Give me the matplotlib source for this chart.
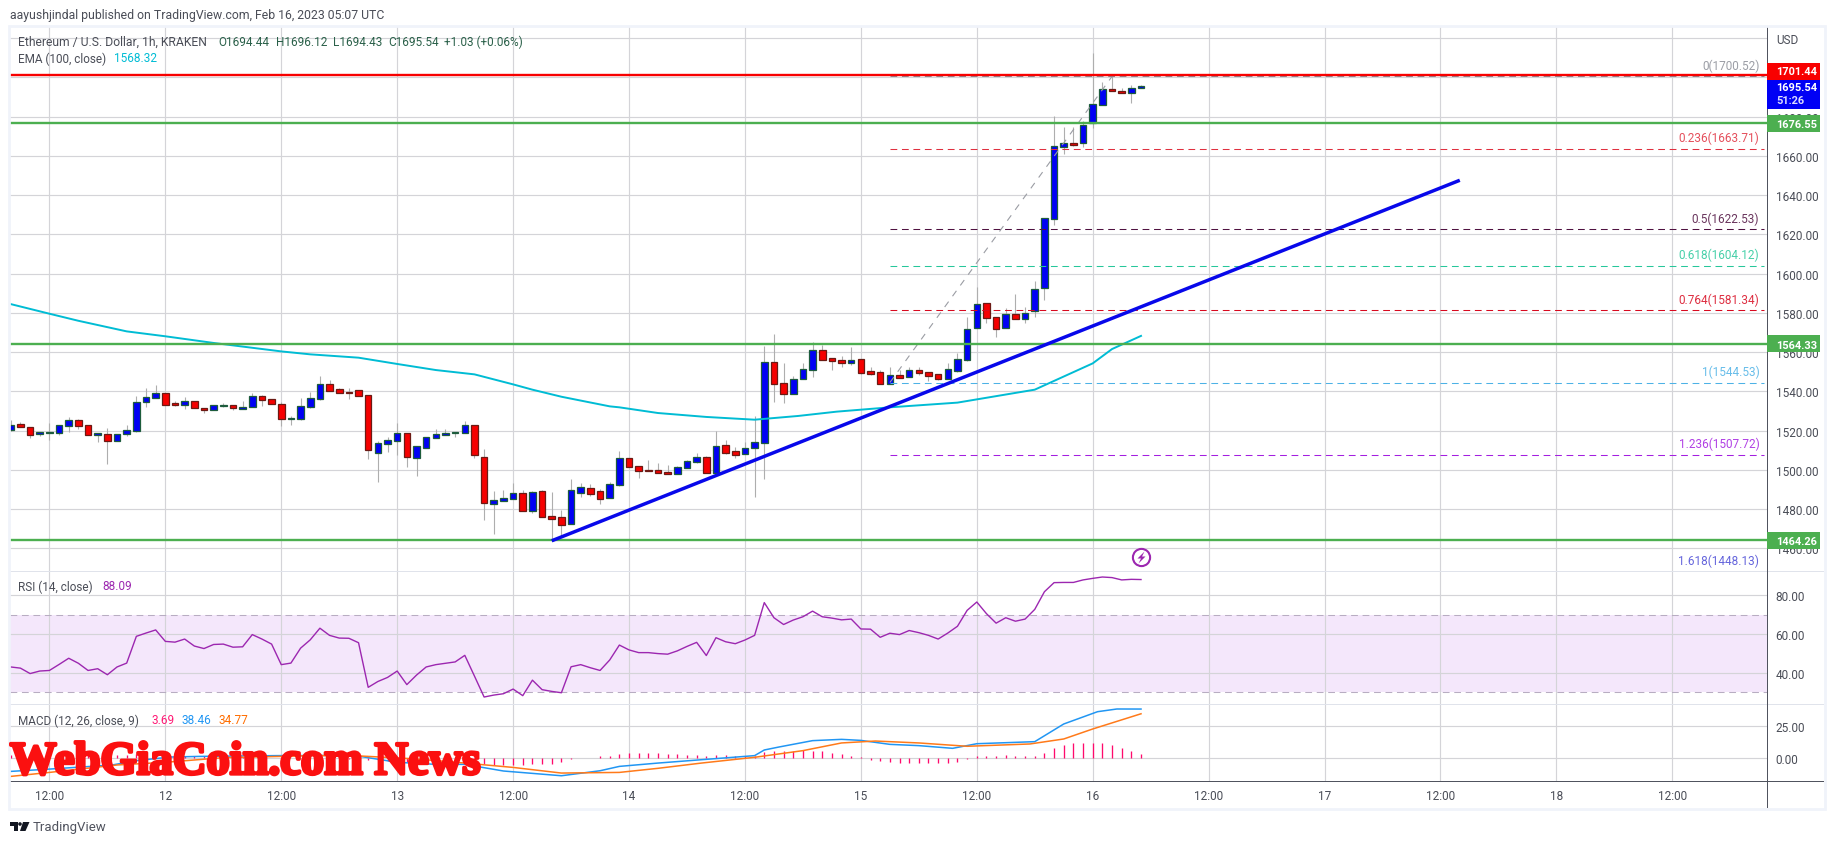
"""ETH/USD 1h chart, TradingView look, three panes (price, RSI, MACD)."""
import matplotlib
matplotlib.use("Agg")
import matplotlib.patheffects as pe
import matplotlib.pyplot as plt
import numpy as np
from matplotlib.patches import Circle, Polygon, Rectangle

W, H = 1834, 845

# hours since Feb 12 00:00, first candle Feb 11 08:00
hours = np.arange(-16, 102)

opens = [1520.5, 1523.2, 1521.7, 1518.5, 1519.0, 1519.0, 1522.6, 1525.3, 1522.7, 1518.0, 1518.1, 1514.9,
         1518.5, 1520.0, 1534.8, 1536.8, 1539.0, 1533.9, 1533.3, 1535.0, 1531.4, 1530.7, 1532.6, 1532.9,
         1531.2, 1531.9, 1537.5, 1536.0, 1533.4, 1525.8, 1526.1, 1532.2, 1536.3, 1543.6, 1541.1, 1539.5,
         1540.6, 1538.0, 1508.8, 1513.4, 1514.9, 1518.6, 1506.2, 1511.3, 1516.4, 1518.0, 1519.0, 1519.0,
         1522.7, 1506.4, 1482.8, 1484.3, 1485.4, 1488.1, 1479.2, 1489.1, 1476.4, 1475.8, 1472.6, 1488.4,
         1490.6, 1489.1, 1485.5, 1492.2, 1505.9, 1501.8, 1500.0, 1499.8, 1498.8, 1498.1, 1501.2, 1504.2,
         1506.4, 1498.6, 1512.5, 1509.5, 1508.3, 1511.3, 1513.9, 1554.8, 1544.1, 1538.9, 1546.2, 1550.8,
         1560.9, 1556.9, 1555.8, 1554.7, 1556.4, 1550.2, 1549.7, 1544.0, 1548.2, 1547.5, 1550.8, 1549.7,
         1548.7, 1546.5, 1550.6, 1556.0, 1572.2, 1584.9, 1577.8, 1572.2, 1579.3, 1577.1, 1581.2, 1592.6,
         1628.1, 1664.7, 1666.4, 1666.4, 1677.0, 1686.1, 1694.0, 1692.9, 1691.9, 1694.44]
highs = [1525.4, 1524.3, 1521.7, 1519.5, 1523.9, 1522.7, 1527.1, 1526.0, 1522.7, 1518.6, 1521.2, 1518.1,
         1522.9, 1537.5, 1541.8, 1543.3, 1539.0, 1535.0, 1537.0, 1535.0, 1531.7, 1532.9, 1534.1, 1532.9,
         1535.1, 1539.2, 1538.4, 1536.0, 1534.8, 1527.3, 1536.7, 1539.5, 1547.9, 1545.8, 1541.8, 1541.8,
         1540.6, 1538.0, 1514.6, 1516.6, 1523.9, 1518.6, 1512.0, 1516.6, 1520.9, 1520.9, 1519.3, 1524.9,
         1522.7, 1510.7, 1489.4, 1489.8, 1493.3, 1489.6, 1489.1, 1489.6, 1488.8, 1479.4, 1495.2, 1493.3,
         1492.8, 1490.1, 1493.7, 1509.5, 1505.9, 1501.8, 1505.1, 1503.5, 1502.5, 1501.8, 1505.2, 1508.6,
         1507.3, 1519.8, 1515.3, 1511.5, 1514.1, 1527.3, 1563.2, 1569.3, 1554.5, 1547.7, 1554.5, 1565.2,
         1563.7, 1556.9, 1557.9, 1562.5, 1556.4, 1552.3, 1550.8, 1552.3, 1550.9, 1552.3, 1552.3, 1549.7,
         1548.7, 1554.3, 1559.4, 1577.9, 1593.4, 1584.9, 1577.8, 1582.5, 1589.7, 1582.9, 1596.5, 1628.2,
         1680.2, 1674.8, 1674.8, 1677.8, 1712.5, 1697.5, 1700.9, 1694.5, 1696.2, 1696.12]
lows = [1520.0, 1521.7, 1516.3, 1517.5, 1515.4, 1517.8, 1519.3, 1520.9, 1517.6, 1514.2, 1503.0, 1514.9,
        1517.5, 1519.2, 1532.2, 1536.8, 1533.3, 1532.8, 1531.1, 1531.7, 1529.0, 1530.7, 1531.9, 1530.7,
        1531.2, 1531.9, 1532.8, 1533.4, 1522.4, 1522.9, 1525.6, 1531.7, 1535.8, 1540.4, 1539.4, 1536.1,
        1537.8, 1505.6, 1494.0, 1509.0, 1507.6, 1501.7, 1497.1, 1511.3, 1516.4, 1518.0, 1516.8, 1519.0,
        1506.3, 1474.5, 1467.4, 1484.3, 1485.4, 1479.2, 1478.1, 1476.2, 1464.0, 1466.5, 1472.6, 1486.4,
        1486.9, 1482.8, 1485.5, 1492.0, 1501.7, 1496.1, 1499.6, 1498.6, 1498.1, 1498.1, 1501.2, 1503.7,
        1498.3, 1498.6, 1508.1, 1506.2, 1508.3, 1486.4, 1495.4, 1534.8, 1534.1, 1538.9, 1546.2, 1547.4,
        1556.2, 1550.9, 1552.5, 1553.6, 1548.9, 1548.4, 1544.0, 1544.0, 1547.0, 1547.5, 1548.4, 1545.5,
        1545.8, 1546.5, 1549.7, 1555.3, 1572.2, 1574.9, 1567.9, 1572.2, 1577.1, 1574.9, 1578.1, 1586.8,
        1625.0, 1661.0, 1665.2, 1664.7, 1674.4, 1686.1, 1693.3, 1691.9, 1687.2, 1694.43]
closes = [1522.9, 1521.7, 1518.0, 1519.2, 1519.3, 1522.7, 1525.3, 1522.6, 1518.0, 1518.6, 1514.9, 1518.1,
          1520.2, 1534.5, 1537.0, 1539.0, 1533.3, 1533.3, 1535.0, 1531.7, 1530.7, 1532.9, 1532.9, 1531.7,
          1531.9, 1537.5, 1535.8, 1533.8, 1525.8, 1526.3, 1532.4, 1536.5, 1543.6, 1540.4, 1539.4, 1539.2,
          1537.8, 1510.3, 1513.6, 1515.1, 1518.6, 1506.4, 1512.0, 1516.6, 1518.1, 1518.8, 1519.3, 1522.7,
          1507.4, 1483.3, 1484.5, 1485.5, 1488.1, 1479.2, 1488.6, 1476.2, 1474.8, 1472.1, 1489.6, 1491.1,
          1487.9, 1485.4, 1492.7, 1505.9, 1501.7, 1499.6, 1499.6, 1498.6, 1498.1, 1501.3, 1504.4, 1506.4,
          1498.3, 1512.0, 1508.8, 1507.8, 1511.0, 1514.1, 1554.8, 1544.0, 1538.9, 1546.2, 1551.3, 1560.9,
          1556.2, 1555.7, 1554.7, 1555.8, 1549.6, 1549.0, 1544.0, 1548.2, 1547.0, 1550.8, 1549.6, 1548.0,
          1546.5, 1551.3, 1556.4, 1571.6, 1584.4, 1577.6, 1572.0, 1579.3, 1577.1, 1579.8, 1592.0, 1628.2,
          1664.9, 1666.4, 1665.8, 1675.6, 1686.3, 1694.0, 1693.3, 1691.9, 1694.5, 1695.54]

ema_hours = [-16, -12, -9, -4, 0, 5, 12, 15, 20, 24, 28, 32, 36, 38, 41, 46, 47, 51, 56, 61, 65.5, 69.5, 75,
             82, 90, 96, 98, 101]
ema_vals = [1584.5, 1579.6, 1576.0, 1570.6, 1568.1, 1564.7, 1560.4, 1558.9, 1557.2, 1554.0, 1550.9, 1548.7,
            1543.6, 1540.9, 1537.3, 1532.4, 1531.9, 1529.0, 1527.0, 1525.6, 1527.5, 1529.7, 1531.9, 1534.3,
            1540.9, 1554.3, 1561.6, 1568.3]

rsi_vals = [43.0, 42.4, 39.6, 40.9, 41.2, 44.3, 47.5, 44.9, 41.2, 42.1, 39.0, 43.0, 45.0, 58.8, 60.5, 62.1,
            56.2, 55.8, 57.4, 53.8, 52.5, 54.6, 54.8, 53.2, 53.4, 59.7, 57.4, 54.8, 44.2, 45.0, 52.7, 57.0,
            63.0, 59.3, 57.9, 57.8, 55.5, 32.5, 35.5, 37.6, 40.9, 33.9, 38.8, 43.0, 44.2, 44.9, 45.6, 49.0,
            38.3, 27.5, 28.5, 29.2, 31.6, 28.2, 36.2, 31.3, 30.4, 29.7, 43.1, 44.2, 42.6, 41.2, 46.6, 54.3,
            51.8, 50.4, 50.4, 49.9, 49.6, 51.3, 53.6, 55.7, 48.9, 58.1, 56.0, 55.0, 56.9, 59.3, 76.2, 68.4,
            64.9, 67.2, 68.9, 71.8, 68.9, 68.2, 67.3, 67.7, 62.6, 62.5, 58.3, 60.4, 59.7, 61.8, 60.7, 59.3,
            57.4, 60.5, 64.0, 72.2, 76.5, 70.5, 65.6, 68.4, 66.6, 67.7, 72.7, 81.8, 86.5, 86.6, 86.6, 87.9,
            88.7, 89.4, 89.1, 87.9, 88.2, 88.09]

macd_hours = [-16, -12, -5.5, -3, 0.5, 3.5, 11.5, 19.5, 24, 28, 31, 35, 41, 45, 47, 51, 56, 61, 62, 63.5, 67,
              70, 72, 75, 78, 81.5, 84, 90, 93, 96.5, 98.5, 101]
macd_vals = [-10.2, -8.4, -5.2, -1.8, 1.0, 1.5, 2.1, 2.3, -3.1, -4.7, -4.7, -9.9, -13.6, -9.7, -6.3, -3.7,
             -0.8, 2.1, 6.5, 8.8, 13.8, 14.8, 14.0, 10.9, 9.9, 7.8, 11.4, 13.0, 26.8, 36.4, 38.5, 38.46]
signal_hours = [-16, -12, -5, 0, 6, 15.5, 19.5, 26, 31, 36, 41, 47, 51, 55.5, 61, 66, 70, 73.5, 78, 83, 89.5,
                93, 96, 101]
signal_vals = [-14.1, -11.0, -5.2, -3.1, 0.5, 2.1, 2.1, -0.5, -3.7, -7.1, -11.5, -11.0, -7.8, -3.7, 0.8, 6.0,
               12.0, 13.5, 12.0, 9.4, 11.2, 15.1, 22.9, 34.77]
hist_vals = [2.6, 2.8, 3.0, 3.0, 3.2, 3.0, 3.0, 3.0, 3.0, 2.8, 2.5, 2.5, 2.5, 3.0, 3.0, 3.0,
             3.0, 2.5, 2.2, 2.0, 1.5, 1.5, 1.0, 1.0, 0.8, 0.5, 0.3, 0.2, 0.2, 0.2, 0.2, 0.2,
             0.2, 0.3, 0.1, -0.2, -0.5, -1.0, -1.5, -2.0, -2.4, -2.6, -2.8, -2.8, -2.6, -2.4, -2.2, -2.4,
             -3.2, -4.4, -5.2, -5.2, -5.2, -5.2, -4.7, -4.2, -4.2, -3.1, -0.5, 0.3, 0.5, 1.6, 2.0, 3.4,
             4.2, 4.2, 4.2, 4.2, 3.4, 3.4, 2.6, 2.6, 2.1, 2.6, 2.6, 1.6, 1.6, 2.0, 5.2, 6.0,
             6.0, 5.5, 6.2, 6.0, 6.0, 4.2, 3.4, 2.1, 1.0, -1.0, -2.0, -2.9, -3.4, -3.4, -3.4, -3.4,
             -3.4, -3.4, -2.6, -0.8, 1.8, 1.8, 1.8, 2.6, 1.8, 1.8, 1.8, 4.2, 8.0, 10.4, 12.0, 12.0,
             12.0, 12.0, 10.4, 8.0, 5.7, 3.69]

# horizontal levels and trendline drawn by the author
resistance = 1701.44
supports = [1676.55, 1564.33, 1464.26]
trend_hours = [40, 134]
trend_prices = [1463.9, 1647.6]

fib_labels = ["0", "0.236", "0.5", "0.618", "0.764", "1", "1.236", "1.618"]
fib_prices = [1700.52, 1663.71, 1622.53, 1604.12, 1581.34, 1544.53, 1507.72, 1448.13]
fib_colors = ["#8a8d96", "#e0303f", "#4f1140", "#26c79a", "#d8091f", "#4db2e6", "#a31fe0", "#4a4ad6"]
fib_start, fib_end = 75, 98

grid_hours = np.arange(-12, 157, 12)
time_labels = ["12:00", "12", "12:00", "13", "12:00", "14", "12:00", "15", "12:00", "16", "12:00", "17",
               "12:00", "18", "12:00"]

FONT = "Roboto"
TXT = "#4a4d57"
GRID = "#d4d4d8"
plt.rcParams["font.family"] = FONT
plt.rcParams["font.size"] = 8.5


def axes_px(fig, left, top, right, bottom):
    return fig.add_axes([left / W, 1 - bottom / H, (right - left) / W, (bottom - top) / H])


def ftext(fig, x, y, s, **kw):
    kw.setdefault("va", "center")
    kw.setdefault("color", TXT)
    fig.text(x / W, 1 - y / H, s, **kw)


def frect(fig, x0, y0, x1, y1, **kw):
    fig.add_artist(Rectangle((x0 / W, 1 - y1 / H), (x1 - x0) / W, (y1 - y0) / H,
                             transform=fig.transFigure, **kw))


def style_pane(ax, ylim, yticks, ylabels):
    ax.set_xlim(-16.08, 165.8)
    ax.set_ylim(*ylim)
    ax.set_xticks(grid_hours)
    ax.set_yticks(yticks)
    ax.set_yticklabels(ylabels)
    ax.yaxis.tick_right()
    ax.tick_params(axis="y", length=0, pad=6.3, labelcolor=TXT)
    ax.tick_params(axis="x", length=0, labelbottom=False)
    ax.grid(True, color=GRID, lw=0.85)
    ax.set_axisbelow(True)
    for s in ax.spines.values():
        s.set_visible(False)


def draw_candles(ax):
    o, h, l, c = map(np.array, (opens, highs, lows, closes))
    up = c >= o
    ax.vlines(hours, l, h, color="#aeaeae", lw=0.8, zorder=2)
    ax.bar(hours[up], (c - o)[up], bottom=o[up], width=0.68, color="#0000f5",
           edgecolor="#1d5c3c", lw=0.9, zorder=3)
    ax.bar(hours[~up], (o - c)[~up], bottom=c[~up], width=0.68, color="#f60000",
           edgecolor="#6b1a14", lw=0.9, zorder=3)


def draw_price(ax):
    ticks = np.arange(1460, 1721, 20)
    labels = [f"{t:.2f}" for t in ticks[:-1]] + [""]
    style_pane(ax, (1448.5, 1725.7), ticks, labels)
    draw_candles(ax)
    ax.plot(ema_hours, ema_vals, color="#00bcd4", lw=1.4, zorder=4)
    ax.axhline(resistance, color="#f80000", lw=1.7, zorder=5)
    for lvl in supports:
        ax.axhline(lvl, color="#4caf50", lw=1.7, zorder=5)
    ax.plot(trend_hours, trend_prices, color="#0808ea", lw=2.5, zorder=6, solid_capstyle="butt")
    ax.plot([fib_start, fib_end], [fib_prices[5], fib_prices[0]], color="#9a9ca3", lw=0.8,
            ls=(0, (6, 6)), zorder=4)
    for name, lvl, col in zip(fib_labels, fib_prices, fib_colors):
        if lvl > 1449:
            ax.hlines(lvl, fib_start, 165.5, color=col, lw=0.75, ls=(0, (6.5, 4.5)), zorder=4)
        ax.annotate(f"{name}({lvl:.2f})", (165, lvl), xytext=(0, 8), textcoords="offset points",
                    ha="right", va="center", color=col, alpha=0.85, annotation_clip=False, zorder=7)


def draw_rsi(ax):
    style_pane(ax, (23.9, 92.5), [40, 60, 80], ["40.00", "60.00", "80.00"])
    ax.axhspan(30, 70, color="#9c27e0", alpha=0.11, lw=0, zorder=0.5)
    for lvl in (30, 70):
        ax.axhline(lvl, color="#b8adc2", lw=0.75, ls=(0, (6.5, 4.5)), zorder=1)
    ax.plot(hours, rsi_vals, color="#9c27b0", lw=1.0, zorder=3)


def draw_macd(ax):
    style_pane(ax, (-17.7, 42.4), [0, 25], ["0.00", "25.00"])
    ax.vlines(hours, 0, hist_vals, color="#ff0a6c", lw=0.95, zorder=2)
    ax.plot(macd_hours, macd_vals, color="#2196f3", lw=1.1, zorder=3)
    ax.plot(signal_hours, signal_vals, color="#ff7a1a", lw=1.1, zorder=3)
    ax.tick_params(axis="x", labelbottom=True, pad=6, labelcolor=TXT)
    ax.set_xticklabels(time_labels)


def draw_chrome(fig, y_of):
    # frame, pane separators and the dark axis lines
    frect(fig, 9, 27, 1825, 810, fill=False, edgecolor="#f0f3fa", lw=2.0, zorder=5)
    for y in (572, 705):
        frect(fig, 10, y - 0.5, 1824, y + 0.5, color="#e0e3eb", lw=0, zorder=1)
    frect(fig, 10, 781.5, 1824, 782.7, color="#50535e", lw=0, zorder=2)
    frect(fig, 1766.5, 28, 1767.7, 809, color="#50535e", lw=0, zorder=2)

    # price badges on the right scale
    frect(fig, 1767, y_of(resistance) - 12, 1820, y_of(resistance) + 5, color="#f80000", lw=0, zorder=3)
    frect(fig, 1767, y_of(resistance) + 5, 1820, y_of(resistance) + 34, color="#0000f5", lw=0, zorder=3)
    ftext(fig, 1776, 72, f"{resistance:.2f}", color="white", weight="bold", size=7.9, zorder=6)
    ftext(fig, 1776, 88, f"{closes[-1]:.2f}", color="white", weight="bold", size=7.9, zorder=6)
    ftext(fig, 1776, 101, "51:26", color="#dcdcff", weight="bold", size=7.9, zorder=6)
    for lvl in supports:
        yy = y_of(lvl)
        frect(fig, 1767, yy - 8.5, 1820, yy + 8.5, color="#4caf50", lw=0, zorder=3)
        ftext(fig, 1776, yy + 1, f"{lvl:.2f}", color="white", weight="bold", size=7.9, zorder=6)
    ftext(fig, 1776, 40, "USD", zorder=6)

    # header and legends
    ftext(fig, 10, 15, "aayushjindal published on TradingView.com, Feb 16, 2023 05:07 UTC", size=8.8)
    ftext(fig, 18, 42, "Ethereum / U.S. Dollar, 1h, KRAKEN", size=8.75, zorder=6)
    green = "#2a6049"
    for x, s in [(218, "O1694.44"), (275.6, "H1696.12"), (332.5, "L1694.43"), (388, "C1695.54"),
                 (444.4, "+1.03 (+0.06%)")]:
        ftext(fig, x, 42, s, color=green, zorder=6)
    ftext(fig, 18, 59, "EMA (100, close)", zorder=6)
    ftext(fig, 114.3, 59, "1568.32", color="#00bcd4", zorder=6)
    ftext(fig, 18, 587, "RSI (14, close)", zorder=6)
    ftext(fig, 102, 587, "88.09", color="#9c27b0", zorder=6)
    ftext(fig, 18, 721, "MACD (12, 26, close, 9)", zorder=6)
    ftext(fig, 151.4, 721, "3.69", color="#ff1a75", zorder=6)
    ftext(fig, 181.5, 721, "38.46", color="#2196f3", zorder=6)
    ftext(fig, 218.3, 721, "34.77", color="#ff6d00", zorder=6)

    # lightning badge above the RSI pane
    fig.add_artist(Circle((1141.5, H - 558.5), 8.6, transform=None, fill=False, edgecolor="#9c27b0", lw=1.5,
                          zorder=6))
    bolt = [(1144.5, 552.5), (1137.5, 559.5), (1141, 559.5), (1138.5, 564.5), (1145.5, 557.5),
            (1142, 557.5)]
    fig.add_artist(Polygon([(x / W, 1 - y / H) for x, y in bolt], closed=True, color="#9c27b0", lw=0,
                           transform=fig.transFigure, zorder=6))

    # TradingView logo, bottom left
    logo = "#131722"
    frect(fig, 10, 823, 18, 827, color=logo, lw=0, zorder=6)
    frect(fig, 14, 823, 18, 832, color=logo, lw=0, zorder=6)
    fig.add_artist(Circle((20, H - 825), 1.8, transform=None, color=logo, lw=0, zorder=6))
    tail = [(23, 823), (29.5, 823), (25.5, 832), (20, 832)]
    fig.add_artist(Polygon([(x / W, 1 - y / H) for x, y in tail], closed=True, color=logo, lw=0,
                           transform=fig.transFigure, zorder=6))
    ftext(fig, 33, 828, "TradingView", size=9.5, color="#50535e")

    # watermark over the MACD pane
    fig.text(10 / W, 1 - 775 / H, "WebGiaCoin.com News", family="Liberation Serif", weight="bold",
             size=33.5, color="#fb1010", va="baseline", zorder=8,
             path_effects=[pe.withStroke(linewidth=2.4, foreground="#fb1010")])


def run():
    fig = plt.figure(figsize=(W / 100, H / 100), dpi=100, facecolor="white")
    ax_price = axes_px(fig, 10, 28, 1767, 572)
    ax_rsi = axes_px(fig, 10, 572, 1767, 705)
    ax_macd = axes_px(fig, 10, 705, 1767, 782)

    draw_price(ax_price)
    draw_rsi(ax_rsi)
    draw_macd(ax_macd)

    def y_of(price):
        return H - ax_price.transData.transform((0, price))[1]

    draw_chrome(fig, y_of)
    fig.savefig("out.png", dpi=100)
    plt.close(fig)


if __name__ == "__main__":
    run()
